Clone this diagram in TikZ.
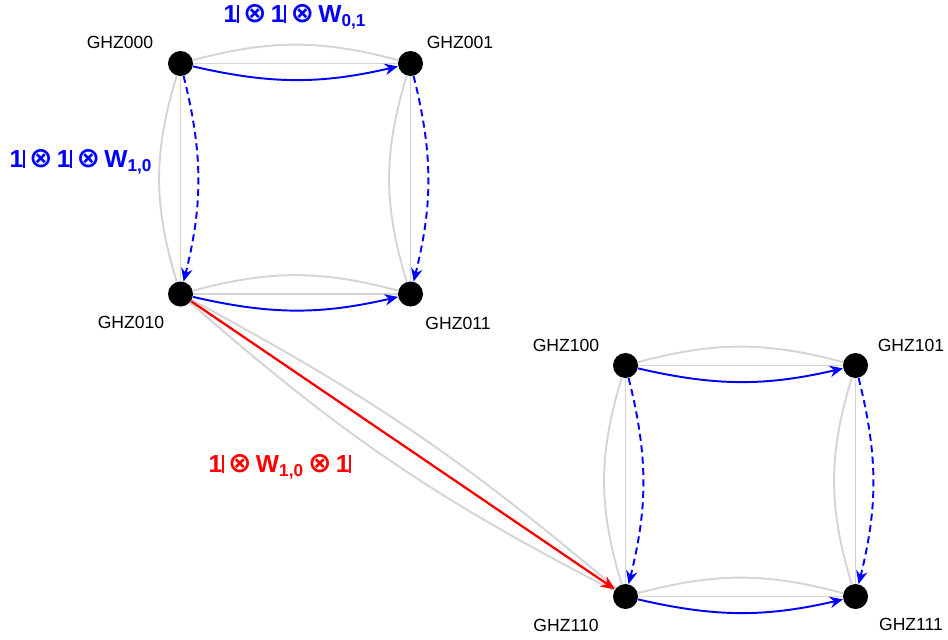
\documentclass[tikz,border=0pt]{standalone}
\usepackage{fontspec}
\setmainfont{Liberation Sans}
\newfontfamily\symfont{DejaVu Sans}
\usepackage{tikz}
\usetikzlibrary{arrows.meta}
\definecolor{hopblue}{HTML}{0000FF}
\definecolor{hopred}{HTML}{FF0000}
\definecolor{edgegray}{HTML}{D4D4D4}
\newcommand{\idone}{1\kern-0.03em\rule{0.1em}{0.716em}}
\newcommand{\tens}{\kern0.17em{\symfont\bfseries\fontsize{16}{16}\selectfont ⊗}\kern0.17em}
\tikzset{
  ghznode/.style={circle,fill=black,minimum size=5mm,inner sep=0pt},
  ghzlbl/.style={inner sep=0pt,font=\fontsize{10}{12}\selectfont},
  oplbl/.style={inner sep=0pt,font=\bfseries\fontsize{14}{16}\selectfont},
  bgedge/.style={draw=edgegray,line width=1.1pt},
  hopedge/.style={-{Stealth[length=7.5pt,width=6.5pt]},hopblue,line width=1.1pt},
  hopdash/.style={hopedge,dash pattern=on 4pt off 2.5pt},
  jumpedge/.style={-{Stealth[length=8pt,width=7pt]},hopred,line width=1.3pt},
}

\begin{document}
\begin{tikzpicture}
  \useasboundingbox (0,0) rectangle (18.96,-12.78);
  \node[ghznode] (g000) at (3.61,-1.27) {};
  \node[ghznode] (g001) at (8.21,-1.27) {};
  \node[ghznode] (g010) at (3.61,-5.88) {};
  \node[ghznode] (g011) at (8.21,-5.88) {};
  \node[ghznode] (g100) at (12.51,-7.31) {};
  \node[ghznode] (g101) at (17.11,-7.31) {};
  \node[ghznode] (g110) at (12.51,-11.93) {};
  \node[ghznode] (g111) at (17.11,-11.93) {};
  \node[ghzlbl] (t000) at (2.40,-0.85) {GHZ000};
  \node[ghzlbl] (t001) at (9.20,-0.85) {GHZ001};
  \node[ghzlbl] (t010) at (2.62,-6.44) {GHZ010};
  \node[ghzlbl] (t011) at (9.16,-6.46) {GHZ011};
  \node[ghzlbl] (t100) at (11.32,-6.90) {GHZ100};
  \node[ghzlbl] (t101) at (18.22,-6.90) {GHZ101};
  \node[ghzlbl] (t110) at (11.32,-12.50) {GHZ110};
  \node[ghzlbl] (t111) at (18.22,-12.48) {GHZ111};
  \foreach \a/\b in {g000/g001,g010/g011,g100/g101,g110/g111} {
    \draw[bgedge] (\a) -- (\b);
    \draw[bgedge] (\a) to[bend left=15] (\b);
    \draw[hopedge] (\a) to[bend right=13] (\b);
  }
  \foreach \a/\b in {g000/g010,g001/g011,g100/g110,g101/g111} {
    \draw[bgedge] (\a) -- (\b);
    \draw[bgedge] (\a) to[bend right=17] (\b);
    \draw[hopdash] (\a) to[bend left=14] (\b);
  }
  \draw[bgedge] (g010) to[bend left=6] (g110);
  \draw[bgedge] (g010) to[bend right=7] (g110);
  \draw[jumpedge] (g010) -- (g110);
  \node[oplbl,text=hopblue] (opz) at (5.90,-0.34) {\idone\tens\idone\tens W\textsubscript{0,1}};
  \node[oplbl,text=hopblue] (opy) at (1.62,-3.24) {\idone\tens\idone\tens W\textsubscript{1,0}};
  \node[oplbl,text=hopred] (opx) at (5.60,-9.34) {\idone\tens W\textsubscript{1,0}\tens\idone};
\end{tikzpicture}
\end{document}
